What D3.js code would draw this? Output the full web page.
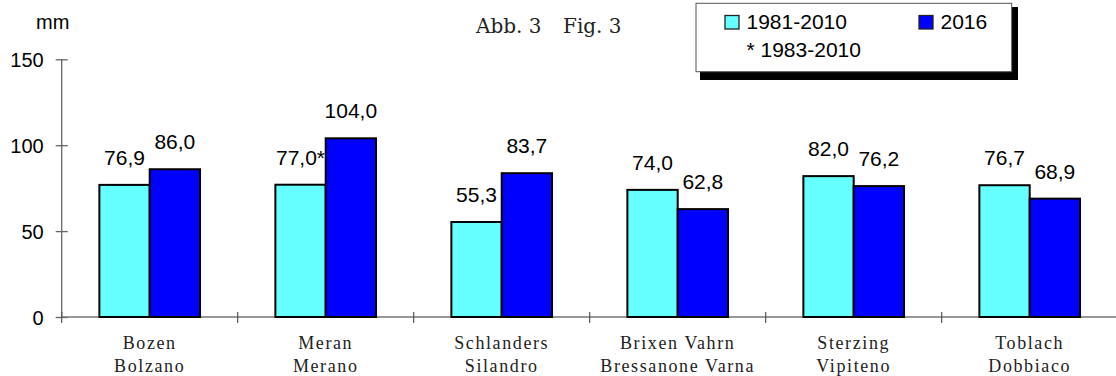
<!DOCTYPE html>
<html>
<head>
<meta charset="utf-8">
<script src="https://cdn.jsdelivr.net/npm/d3@7"></script>
<style>
  body { margin: 0; background: #fff; }
  svg { display: block; }
  text { font-family: "Liberation Sans", Arial, sans-serif; fill: #000; }
  .cat { font-family: "Liberation Serif", "Times New Roman", serif; font-size: 18px; letter-spacing: 1.6px; fill: #222; }
  .title { font-family: "DejaVu Serif", serif; font-size: 20px; fill: #222; }
</style>
</head>
<body>
<script>
// data
const stationsDe = ["Bozen", "Meran", "Schlanders", "Brixen Vahrn", "Sterzing", "Toblach"];
const stationsIt = ["Bolzano", "Merano", "Silandro", "Bressanone Varna", "Vipiteno", "Dobbiaco"];
const seriesNames = ["1981-2010", "2016"];
const values1981 = [76.9, 77.0, 55.3, 74.0, 82.0, 76.7];
const values2016 = [86.0, 104.0, 83.7, 62.8, 76.2, 68.9];
const notes1981 = ["", "*", "", "", "", ""];   // Meran: 1983-2010
const yTicks = [0, 50, 100, 150];
const colors = ["#66ffff", "#0000ff"];

const W = 1116, H = 376;
const svg = d3.select("body").append("svg").attr("width", W).attr("height", H);

const x0 = d3.scaleBand().domain(stationsDe).range([61.7, 1117.7]);
const groupW = x0.bandwidth() * 0.572;
const x1 = d3.scaleBand().domain(seriesNames)
  .range([(x0.bandwidth() - groupW) / 2, (x0.bandwidth() + groupW) / 2]);
const y = d3.scaleLinear().domain([0, 150]).range([317, 59.3]);

const rows = stationsDe.map((s, i) => ({
  station: s,
  vals: [
    { key: seriesNames[0], v: values1981[i], note: notes1981[i] },
    { key: seriesNames[1], v: values2016[i], note: "" }
  ]
}));

// y axis
const yAxis = svg.append("g").attr("transform", "translate(61.7,0)")
  .call(d3.axisLeft(y).tickValues(yTicks).tickSize(6).tickPadding(12));
yAxis.selectAll(".tick line").attr("x2", -6).attr("x1", 6);
yAxis.selectAll("text").style("font-size", "20px").attr("dy", "0.36em");
yAxis.select(".domain").remove();
yAxis.append("line").attr("y1", y(0)).attr("y2", y(150));
yAxis.selectAll("line").attr("stroke", "#666").attr("stroke-width", 1.3);

// x axis
const xAxis = svg.append("g").attr("transform", `translate(0,${y(0)})`);
xAxis.append("line").attr("x1", 61.7).attr("x2", W).attr("stroke", "#777").attr("stroke-width", 1.5);
xAxis.selectAll(".xt").data(stationsDe).enter().append("line")
  .attr("x1", d => x0(d)).attr("x2", d => x0(d))
  .attr("y1", -5).attr("y2", 6).attr("stroke", "#555").attr("stroke-width", 1.2);

// bars
const g = svg.selectAll(".grp").data(rows).enter().append("g")
  .attr("transform", d => `translate(${x0(d.station)},0)`);

g.selectAll("rect").data(d => d.vals).enter().append("rect")
  .attr("x", d => x1(d.key))
  .attr("width", x1.bandwidth())
  .attr("y", d => y(d.v))
  .attr("height", d => y(0) - y(d.v))
  .attr("fill", (d, i) => colors[i])
  .attr("stroke", "#000").attr("stroke-width", 2);

g.selectAll(".val").data(d => d.vals).enter().append("text")
  .attr("x", d => x1(d.key) + x1.bandwidth() / 2)
  .attr("y", d => y(d.v) - 20)
  .attr("text-anchor", "middle")
  .style("font-size", "21px")
  .text(d => d.v.toFixed(1).replace(".", ",") + d.note);

// category labels
const cl = svg.selectAll(".cat").data(stationsDe).enter().append("text")
  .attr("class", "cat").attr("text-anchor", "middle")
  .attr("x", d => x0(d) + x0.bandwidth() / 2);
cl.append("tspan").attr("x", d => x0(d) + x0.bandwidth() / 2).attr("y", 349).text(d => d);
cl.append("tspan").attr("x", d => x0(d) + x0.bandwidth() / 2).attr("y", 371.5).text((d, i) => stationsIt[i]);

// unit + title
svg.append("text").attr("x", 36).attr("y", 29).style("font-size", "20px").text("mm");
svg.append("text").attr("class", "title").attr("x", 476).attr("y", 33).text("Abb. 3");
svg.append("text").attr("class", "title").attr("x", 563).attr("y", 33).text("Fig. 3");

// legend
const lg = svg.append("g");
lg.append("rect").attr("x", 700).attr("y", 7).attr("width", 318).attr("height", 73).attr("fill", "#000");
lg.append("rect").attr("x", 696).attr("y", 3.3).attr("width", 315.7).attr("height", 68.4)
  .attr("fill", "#fff").attr("stroke", "#555").attr("stroke-width", 1);
const legX = [725, 919];
seriesNames.forEach((s, i) => {
  lg.append("rect").attr("x", legX[i]).attr("y", 15.5).attr("width", 14).attr("height", 13.5)
    .attr("fill", colors[i]).attr("stroke", "#222").attr("stroke-width", 1.3);
  lg.append("text").attr("x", legX[i] + 21.5).attr("y", 29).style("font-size", "21px").text(s);
});
lg.append("text").attr("x", 746.5).attr("y", 57).style("font-size", "21px").text("* 1983-2010");
</script>
</body>
</html>
